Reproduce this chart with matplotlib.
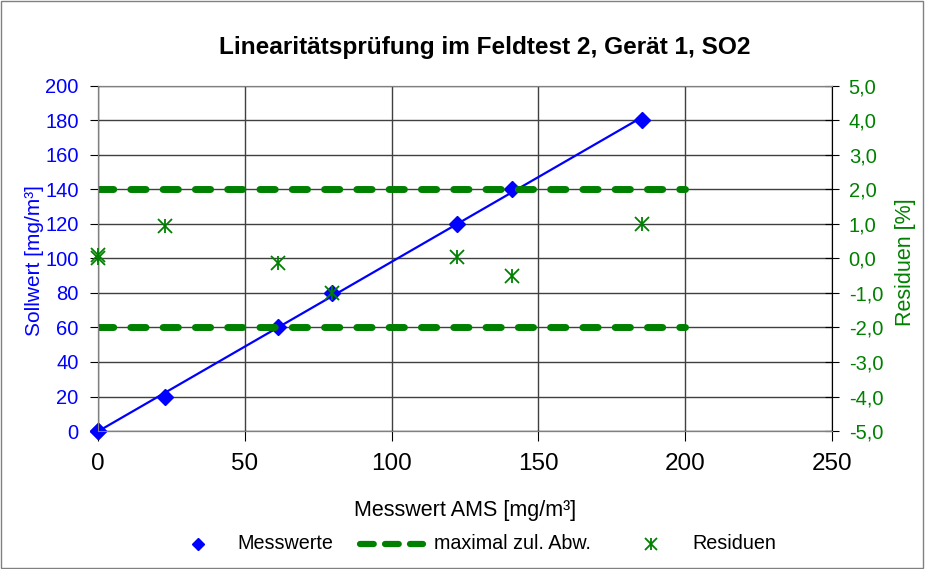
import matplotlib.pyplot as plt
from matplotlib.lines import Line2D
from matplotlib.patches import Rectangle
import numpy as np

plt.rcParams['font.family'] = ['Liberation Sans', 'DejaVu Sans']

# data
messwert = [0.0, 0.0, 22.8, 61.2, 79.7, 122.2, 141.0, 185.3]
sollwert = [0, 0, 20, 60, 80, 120, 140, 180]
residuen = [0.1, 0.0, 0.95, -0.12, -1.0, 0.03, -0.5, 1.0]
grenze_x = [0, 200]
grenze_oben = [2.0, 2.0]
grenze_unten = [-2.0, -2.0]
legend_labels = ['Messwerte', 'maximal zul. Abw.', 'Residuen']

blue = '#0000ff'
green = '#008000'

fig = plt.figure(figsize=(9.25, 5.69), dpi=100)
ax = fig.add_axes([0.106, 0.2425, 0.7935, 0.6065])
ax2 = ax.twinx()

# regression line through the measured values
k, d = np.polyfit(messwert, sollwert, 1)
xs = np.array([min(messwert), max(messwert)])
ax.plot(xs, k * xs + d, color=blue, lw=1.6, zorder=3)
ax.plot(messwert, sollwert, 'D', color=blue, ms=8, zorder=4, clip_on=False)

for g in [grenze_oben, grenze_unten]:
    ax2.plot(grenze_x, g, color=green, lw=5, dashes=(2.2, 2.45),
             dash_capstyle='round', zorder=2)
# Excel "star" marker = x plus vertical bar
for m in ['x', '|']:
    ax2.plot(messwert, residuen, linestyle='none', marker=m, ms=10,
             mew=1.3, color=green, zorder=5, clip_on=False)

ax.set_xlim(0, 250)
ax.set_ylim(0, 200)
ax2.set_ylim(-5, 5)
ax.set_xticks(np.arange(0, 251, 50))
ax.set_yticks(np.arange(0, 201, 20))
r_ticks = np.arange(-5, 5.1, 1)
ax2.set_yticks(r_ticks)
ax2.set_yticklabels([('%.1f' % v).replace('.', ',') for v in r_ticks])

ax.grid(True, color='#404040', lw=1)
ax.set_axisbelow(True)
for s in ['left', 'right', 'top', 'bottom']:
    ax.spines[s].set_color('#808080')
    ax2.spines[s].set_color('#808080')
ax2.spines['right'].set_color('black')
ax.spines['left'].set_color('black')
ax.spines['bottom'].set_color('black')

ax.tick_params(axis='x', labelsize=17.5, direction='out', length=7, pad=9)
ax.tick_params(axis='y', labelsize=14.5, colors='black', labelcolor=blue,
               length=6, pad=8)
ax2.tick_params(axis='y', labelsize=14.5, colors='black', labelcolor=green,
                direction='inout', length=10, pad=7)

ax.set_xlabel('Messwert AMS [mg/m³]', fontsize=15.5)
ax.xaxis.set_label_coords(0.5, -0.229)
ax.xaxis.label.set_va('center')
ax.set_ylabel('Sollwert [mg/m³]', fontsize=15, color=blue)
ax.yaxis.set_label_coords(-0.087, 0.495)
ax.yaxis.label.set_va('center')
ax2.set_ylabel('Residuen [%]', fontsize=15.5, color=green)
ax2.yaxis.set_label_coords(1.0995, 0.49)
ax2.yaxis.label.set_va('center')

fig.text(0.524, 0.917, 'Linearitätsprüfung im Feldtest 2, Gerät 1, SO2',
         ha='center', va='center', fontsize=17.6, fontweight='bold')

# legend below the chart
ly = 0.044
fig.add_artist(Line2D([0.214], [ly], linestyle='none', marker='D', color=blue,
                      ms=6, transform=fig.transFigure))
fig.add_artist(Line2D([0.3892, 0.4573], [ly, ly], color=green, lw=4.5,
                      dashes=(2.2, 1.8), dash_capstyle='round',
                      transform=fig.transFigure))
for m in ['x', '|']:
    fig.add_artist(Line2D([0.704], [ly], linestyle='none', marker=m, color=green,
                          ms=8, mew=1.3, transform=fig.transFigure))
for x, lab in zip([0.257, 0.469, 0.749], legend_labels):
    fig.text(x, ly, lab, ha='left', va='center', fontsize=14.2)

fig.patches.append(Rectangle((0.001, 0.002), 0.997, 0.996, transform=fig.transFigure,
                             fill=False, edgecolor='#808080', lw=1))

fig.savefig('out.png', dpi=100)
